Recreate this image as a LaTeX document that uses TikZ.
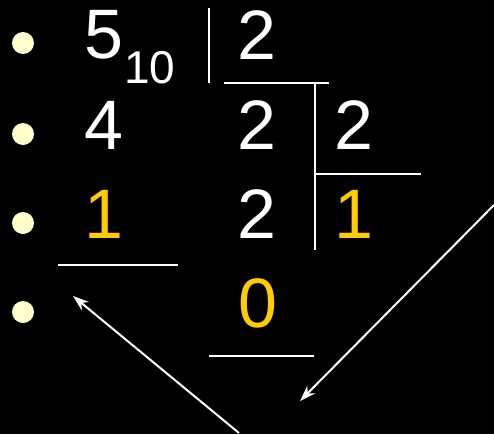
\documentclass[tikz,border=0pt]{standalone}
\usepackage{fontspec}
\setmainfont{Liberation Sans}
\usetikzlibrary{arrows.meta,positioning}
\definecolor{bulcol}{HTML}{FFFFCC}
\definecolor{remcol}{HTML}{FFCC00}
\tikzset{
  dig/.style={text=#1,inner sep=0pt,font=\fontsize{70}{70}\selectfont},
  dig/.default={white},
  subs/.style={text=white,inner sep=0pt,font=\fontsize{46}{46}\selectfont},
  bul/.style={circle,fill=bulcol,minimum size=22pt,inner sep=0pt},
  rule/.style={white,line width=2pt},
  arr/.style={-{Stealth[length=16pt,width=11pt]},white,line width=2pt},
}

\begin{document}
\begin{tikzpicture}[x=1pt,y=-1pt]
 \fill[black] (0,0) rectangle (494,434);
 \useasboundingbox (0,0) rectangle (494,434);
 % bullets
 \foreach \y [count=\i] in {43,134,223,312}
   \node[bul] (b\i) at (23,\y) {};
 % left column
 \node[dig] (five) at (104,35) {5};
 \node[subs] (ten) at (150,68) {10};
 \node[dig] (four) at (104,125) {4};
 \node[dig=remcol] (remA) at (104,214) {1};
 % middle column
 \node[dig] (divA) at (257,35) {2};
 \node[dig] (quoA) at (257,125) {2};
 \node[dig] (divB) at (257,214) {2};
 \node[dig=remcol] (remC) at (258,303) {0};
 % right column
 \node[dig] (quoB) at (354,125) {2};
 \node[dig=remcol] (remB) at (354,214) {1};
 % division bars
 \coordinate (v1t) at (209,8);   \coordinate (v1b) at (209,83);
 \coordinate (h1l) at (224,83);  \coordinate (h1r) at (329,83);
 \coordinate (v2t) at (315,83);  \coordinate (v2b) at (315,250);
 \coordinate (h2l) at (315,174); \coordinate (h2r) at (421,174);
 \coordinate (h3l) at (58,265);  \coordinate (h3r) at (178,265);
 \coordinate (h4l) at (209,356); \coordinate (h4r) at (314,356);
 \draw[rule] (v1t) -- (v1b);
 \draw[rule] (h1l) -- (h1r);
 \draw[rule] (v2t) -- (v2b);
 \draw[rule] (h2l) -- (h2r);
 \draw[rule] (h3l) -- (h3r);
 \draw[rule] (h4l) -- (h4r);
 % arrows
 \coordinate (a1s) at (239,433); \coordinate (a1e) at (73,296);
 \coordinate (a2s) at (494,205); \coordinate (a2e) at (300,401);
 \draw[arr] (a1s) -- (a1e);
 \draw[arr] (a2s) -- (a2e);
\end{tikzpicture}
\end{document}
